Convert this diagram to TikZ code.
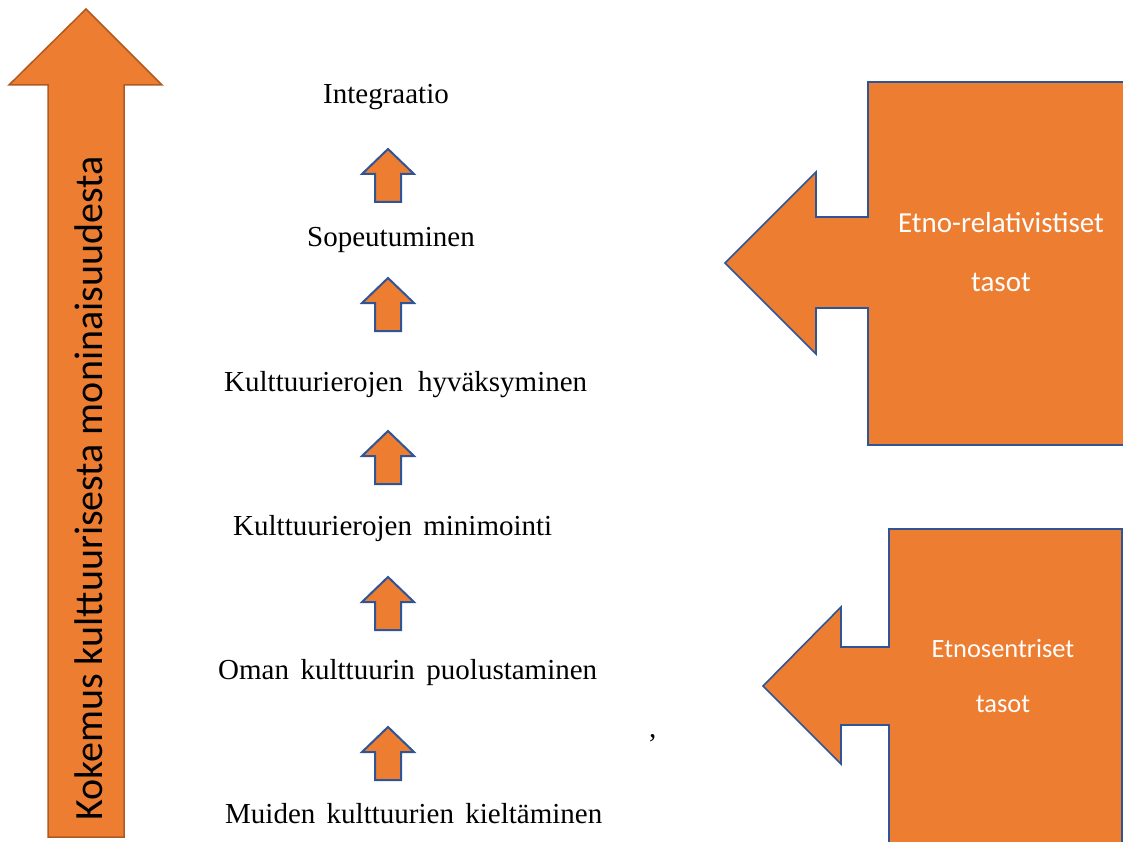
\documentclass[tikz,border=0pt]{standalone}
\usepackage{fontspec}
\setmainfont{Liberation Serif}
\newfontfamily\calib{Carlito}
\definecolor{org}{HTML}{ED7D31}
\definecolor{blu}{HTML}{2F5597}
\definecolor{brn}{HTML}{AE5A21}
\begin{document}
\begin{tikzpicture}[x=1pt,y=-1pt,
  lbl/.style={anchor=base west, inner sep=0pt, font=\fontsize{29}{34}\selectfont},
  smallarr/.style={draw=blu, fill=org, line width=2pt, line join=miter},
  bigarr/.style={draw=brn, fill=org, line width=1.5pt, line join=miter},
  callout/.style={draw=blu, fill=org, line width=1.6pt, line join=miter},
  wtext/.style={text=white, anchor=base, inner sep=0pt},
  uparr/.pic={\path[smallarr] (0,0) -- (26,25) -- (13,25) -- (13,53) -- (-13,53) -- (-13,25) -- (-26,25) -- cycle;}]
\useasboundingbox (0,0) rectangle (1123,842);
\fill[white] (0,0) rectangle (1123,842);

% big left arrow
\path[bigarr] (86,9) -- (162,85) -- (124,85) -- (124,837) -- (48,837) -- (48,85) -- (9,85) -- cycle;
\node[rotate=90, anchor=base west, inner sep=0pt, font=\calib\fontsize{40}{48}\selectfont] (side) at (102,821) {Kokemus kulttuurisesta moninaisuudesta};

% level labels
\node[lbl] (l6) at (323,104) {Integraatio};
\node[lbl] (l5) at (307,247) {Sopeutuminen};
\node[lbl] (l4) at (224,391) {\makebox[363pt][s]{Kulttuurierojen hyväksyminen}};
\node[lbl] (l3) at (233,535) {\makebox[319pt][s]{Kulttuurierojen minimointi}};
\node[lbl] (l2) at (218,679) {\makebox[379pt][s]{Oman kulttuurin puolustaminen}};
\node[lbl] (l1) at (225,823) {\makebox[377pt][s]{Muiden kulttuurien kieltäminen}};
\node[lbl] (comma) at (649,737) {,};

% small up arrows
\pic (a5) at (388,149) {uparr};
\pic (a4) at (388,278) {uparr};
\pic (a3) at (388,431) {uparr};
\pic (a2) at (388,577) {uparr};
\pic (a1) at (388,727) {uparr};

% top callout
\path[callout] (1135,82) -- (868,82) -- (868,217) -- (816,217) -- (816,172) -- (725,263) -- (816,354) -- (816,308) -- (868,308) -- (868,445) -- (1135,445);
\node[wtext, font=\calib\fontsize{29}{35}\selectfont] (t1) at (1001,233) {Etno-relativistiset};
\node[wtext, font=\calib\fontsize{29}{35}\selectfont] (t2) at (1001,291) {tasot};

% bottom callout
\path[callout] (889,850) -- (889,725) -- (841,725) -- (841,764) -- (763,686) -- (841,607) -- (841,647) -- (889,647) -- (889,529) -- (1122,529) -- (1122,850);
\node[wtext, font=\calib\fontsize{26.4}{32}\selectfont] (b1) at (1003,657) {Etnosentriset};
\node[wtext, font=\calib\fontsize{26.4}{32}\selectfont] (b2) at (1003,712) {tasot};
\end{tikzpicture}
\end{document}
